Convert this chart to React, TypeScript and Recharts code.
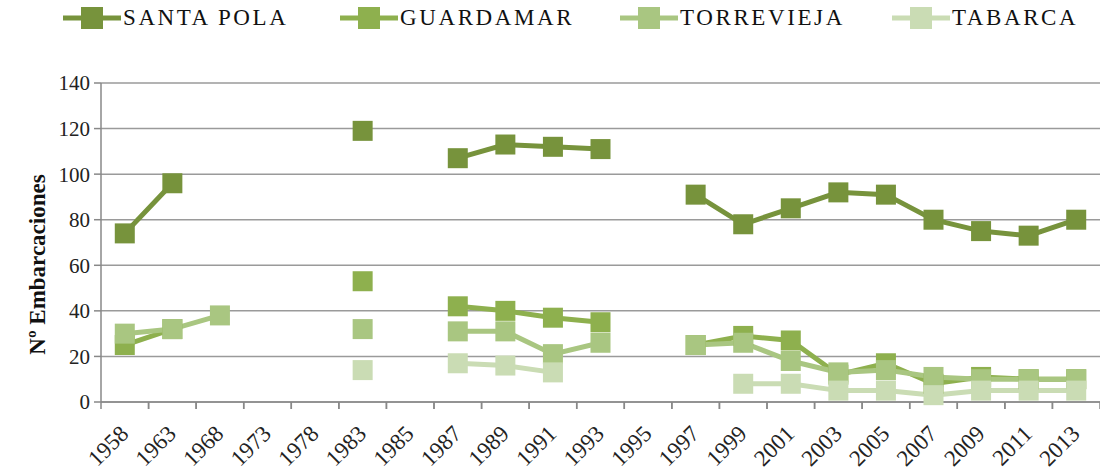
import React from "react";
import { LineChart, Line, XAxis, YAxis, CartesianGrid, Legend } from "recharts";

const years = [
  "1958", "1963", "1968", "1973", "1978", "1983", "1985", "1987", "1989", "1991", "1993",
  "1995", "1997", "1999", "2001", "2003", "2005", "2007", "2009", "2011", "2013",
];
const santaPola = [74, 96, null, null, null, 119, null, 107, 113, 112, 111, null, 91, 78, 85, 92, 91, 80, 75, 73, 80];
const guardamar = [25, 32, null, null, null, 53, null, 42, 40, 37, 35, null, 25, 29, 27, 12, 17, 8, 11, 10, 10];
const torrevieja = [30, 32, 38, null, null, 32, null, 31, 31, 21, 26, null, 25, 26, 18, 13, 14, 11, 10, 10, 10];
const tabarca = [null, null, null, null, null, 14, null, 17, 16, 13, null, null, null, 8, 8, 5, 5, 3, 5, 5, 5];
const yTicks = [0, 20, 40, 60, 80, 100, 120, 140];

const series = [
  { key: "sp", name: "SANTA POLA", values: santaPola, color: "#77933C" },
  { key: "gu", name: "GUARDAMAR", values: guardamar, color: "#8EB04E" },
  { key: "to", name: "TORREVIEJA", values: torrevieja, color: "#A9C681" },
  { key: "ta", name: "TABARCA", values: tabarca, color: "#CADCB4" },
];

const data = years.map((y, i) => {
  const row: any = { year: y };
  series.forEach((s) => (row[s.key] = s.values[i]));
  return row;
});

const W = 1100;
const H = 476;
const LEFT = 101;
const HALF = (W - LEFT) / years.length / 2;
const SERIF = "'Liberation Serif', 'Times New Roman', serif";

const square = (color: string) => (props: any) => {
  const { cx, cy, value, index } = props;
  if (value == null || cx == null || cy == null) return <g key={index} />;
  return <rect key={index} x={cx - 10} y={cy - 10} width={20} height={20} fill={color} />;
};

const XTick = ({ x, y, payload }: any) => (
  <g>
    <line x1={x - HALF} x2={x - HALF} y1={y} y2={y + 7} stroke="#888" strokeWidth={1.5} />
    <line x1={x + HALF} x2={x + HALF} y1={y} y2={y + 7} stroke="#888" strokeWidth={1.5} />
    <text
      x={0}
      y={0}
      transform={`translate(${x + 5}, ${y + 33}) rotate(-45)`}
      textAnchor="end"
      fontSize={23}
      fontFamily={SERIF}
      fill="#222"
    >
      {payload.value}
    </text>
  </g>
);

const YLabel = ({ viewBox }: any) => {
  const cy = viewBox.y + viewBox.height / 2 + 22;
  return (
    <text
      x={45}
      y={cy}
      transform={`rotate(-90 45 ${cy})`}
      textAnchor="middle"
      fontSize={23}
      fontWeight="bold"
      fontFamily={SERIF}
      fill="#111"
    >
      Nº Embarcaciones
    </text>
  );
};

const itemWidths = [277, 280, 272, 200];

const LegendBox = () => (
  <div style={{ display: "flex", paddingLeft: 63, height: 36, alignItems: "center" }}>
    {series.map((s, i) => (
      <div key={s.key} style={{ width: itemWidths[i], display: "flex", alignItems: "center" }}>
        <svg width={58} height={24}>
          <line x1={0} x2={58} y1={12} y2={12} stroke={s.color} strokeWidth={5} />
          <rect x={18} y={1} width={22} height={22} fill={s.color} />
        </svg>
        <span
          style={{
            marginLeft: 2,
            fontFamily: SERIF,
            fontSize: 23,
            letterSpacing: 2.6,
            color: "#111",
          }}
        >
          {s.name}
        </span>
      </div>
    ))}
  </div>
);

export default function App() {
  return (
    <div style={{ position: "absolute", left: 0, top: 0, width: W, height: H, background: "#fff" }}>
      <LineChart width={W} height={H} data={data} margin={{ top: 47, right: 0, bottom: 0, left: 0 }}>
        <Legend
          verticalAlign="top"
          align="left"
          content={<LegendBox />}
          wrapperStyle={{ top: 0, left: 0, width: W, height: 36 }}
        />
        <CartesianGrid vertical={false} stroke="#9a9a9a" strokeWidth={1.5} />
        <XAxis
          dataKey="year"
          scale="band"
          height={74}
          interval={0}
          tickLine={false}
          tickSize={0}
          tickMargin={0}
          stroke="#888"
          strokeWidth={1.5}
          tick={<XTick />}
        />
        <YAxis
          width={LEFT}
          domain={[0, 140]}
          ticks={yTicks}
          interval={0}
          tickSize={7}
          tickMargin={4}
          stroke="#888"
          strokeWidth={1.5}
          tick={{ fontSize: 21, fontFamily: SERIF, fill: "#222" }}
          label={<YLabel />}
        />
        {series.map((s) => (
          <Line
            key={s.key}
            dataKey={s.key}
            name={s.name}
            stroke={s.color}
            strokeWidth={5}
            dot={square(s.color)}
            activeDot={false}
            isAnimationActive={false}
          />
        ))}
      </LineChart>
    </div>
  );
}
